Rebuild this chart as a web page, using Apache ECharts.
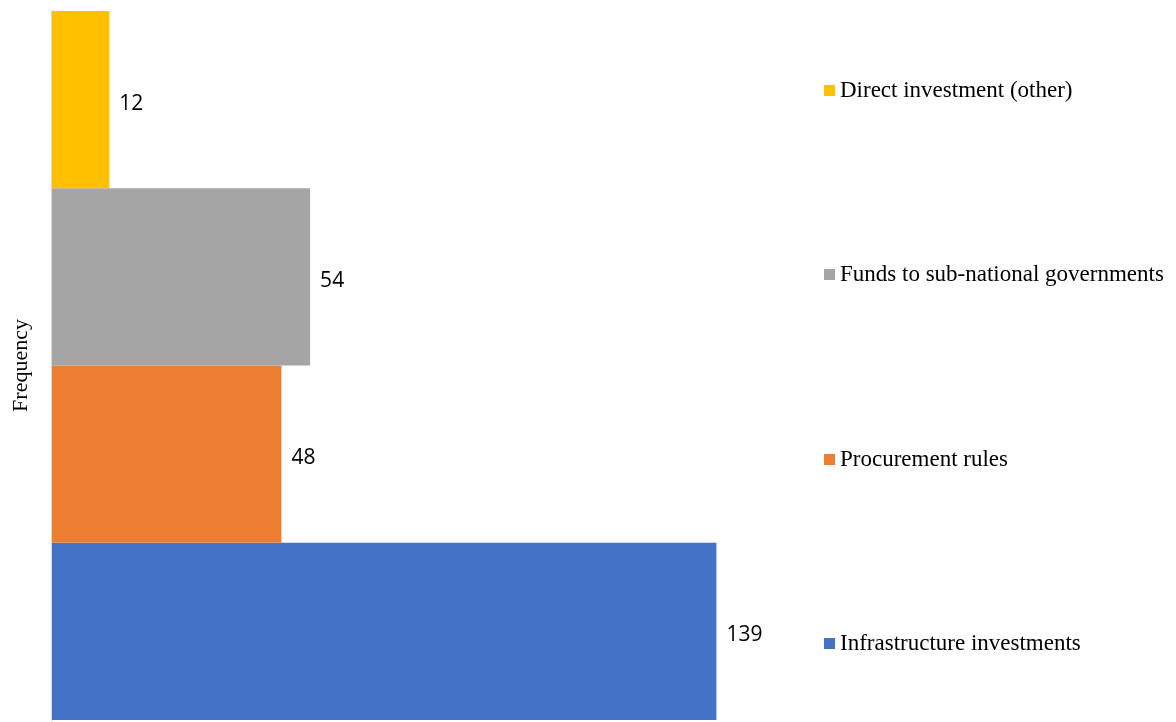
<!DOCTYPE html>
<html>
<head>
<meta charset="utf-8">
<script src="https://cdn.jsdelivr.net/npm/echarts@6/dist/echarts.min.js"></script>
<style>
  html, body { margin: 0; padding: 0; background: #ffffff; }
  #chart { width: 1176px; height: 722px; }
</style>
</head>
<body>
<div id="chart"></div>
<script>
// Categories listed bottom to top (category axis starts at the bottom)
const categories = [
  'Infrastructure investments',
  'Procurement rules',
  'Funds to sub-national governments',
  'Direct investment (other)'
];
const frequencies = [139, 48, 54, 12];
const colors = ['#4472C4', '#ED7D31', '#A5A5A5', '#FFC000'];
// Vertical position of each legend entry (same order as categories)
const legendTops = [627, 443, 258, 74];

const chart = echarts.init(document.getElementById('chart'));

// One series per category so each gets its own legend entry; stacking keeps
// every bar filling the whole band.
const series = categories.map((name, i) => ({
  name: name,
  type: 'bar',
  stack: 'all',
  barCategoryGap: '0%',
  itemStyle: { color: colors[i] },
  data: categories.map((c, j) => (j === i ? frequencies[i] : '-')),
  label: {
    show: true,
    position: 'right',
    distance: 10,
    offset: [0, 4],
    fontFamily: 'Open Sans',
    fontSize: 21,
    color: '#000000'
  }
}));

const legends = categories.map((name, i) => ({
  data: [name],
  left: 819,
  top: legendTops[i],
  orient: 'vertical',
  icon: 'rect',
  itemWidth: 11,
  itemHeight: 11,
  itemGap: 6,
  textStyle: {
    fontFamily: 'Liberation Serif',
    fontSize: 23,
    color: '#000000'
  },
  selectedMode: false
}));

chart.setOption({
  animation: false,
  grid: { left: 52, top: 11, width: 956, height: 709 },
  legend: legends,
  xAxis: {
    type: 'value',
    min: 0,
    max: 200,
    show: false
  },
  yAxis: {
    type: 'category',
    data: categories,
    name: 'Frequency',
    nameLocation: 'middle',
    nameGap: 20,
    nameTextStyle: {
      fontFamily: 'Liberation Serif',
      fontSize: 22,
      color: '#000000'
    },
    axisLine: { show: true, lineStyle: { color: '#d9d9d9', width: 2 } },
    axisTick: { show: false },
    axisLabel: { show: false },
    splitLine: { show: false }
  },
  series: series
});
</script>
</body>
</html>
